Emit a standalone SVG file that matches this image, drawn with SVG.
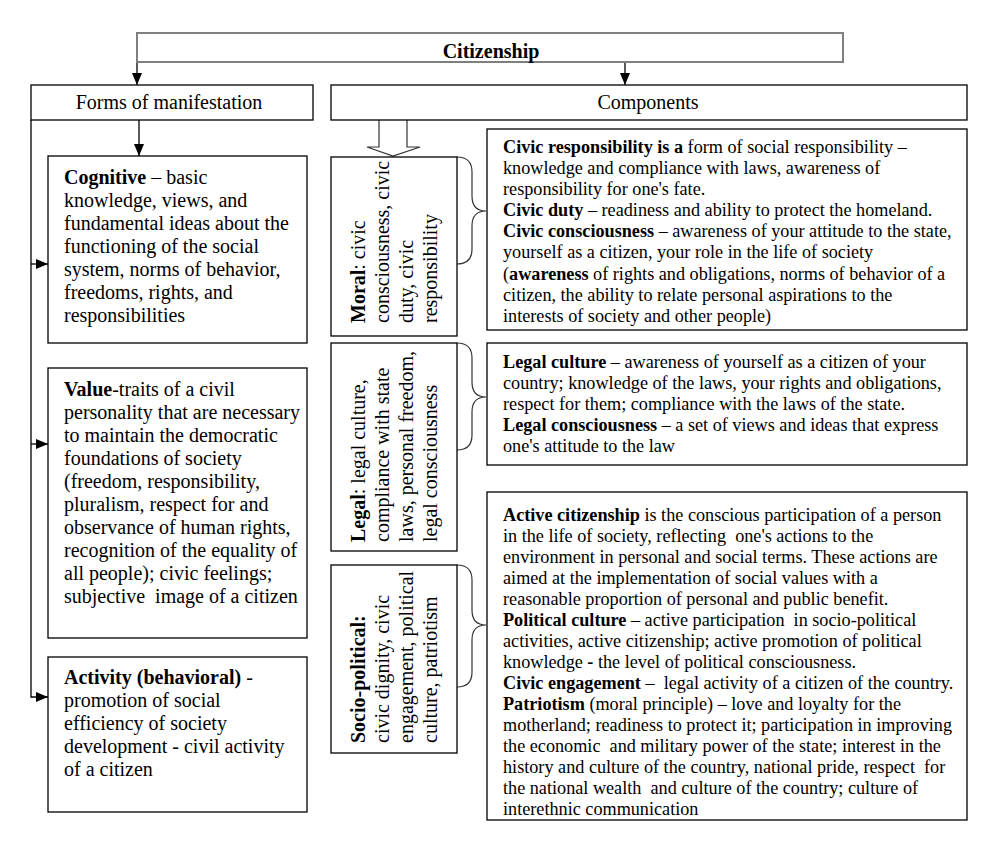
<svg xmlns="http://www.w3.org/2000/svg" width="997" height="845" viewBox="0 0 997 845">
<defs>
<marker id="arr" viewBox="0 0 12 10" refX="12" refY="5" markerWidth="12" markerHeight="10" markerUnits="userSpaceOnUse" orient="auto"><path d="M0,0 L12,5 L0,10 z" fill="#000"/></marker>
<style>
text{font-family:"Liberation Serif","Times New Roman",serif;fill:#000;white-space:pre}
.box{fill:#fff;stroke:#000;stroke-width:1.3}
.top{fill:#fff;stroke:#7f7f7f;stroke-width:2}
.l{font-size:20px}
.r{font-size:18.2px}
.t{font-size:20px}
.b{font-weight:bold}
.con{fill:none;stroke:#000;stroke-width:1.3}
.brace{fill:none;stroke:#333;stroke-width:1.2}
</style>
</defs>
<rect width="997" height="845" fill="#fff"/>

<g id="connectors">
<path class="con" d="M137,62 L137,85" marker-end="url(#arr)"/>
<path class="con" d="M625,62 L625,85" marker-end="url(#arr)"/>
<path class="con" d="M139,120 L139,156" marker-end="url(#arr)"/>
<path class="con" d="M31,120 L31,697 L48,697" marker-end="url(#arr)"/>
<path class="con" d="M31,264 L48,264" marker-end="url(#arr)"/>
<path class="con" d="M31,444 L48,444" marker-end="url(#arr)"/>
<path d="M379,120 L379,147 L367,147 L393,156 L420,147 L407,147 L407,120" fill="#fff" stroke="#333" stroke-width="1.2"/>
<path class="brace" d="M457,157 Q472,157 472,172 L472,196 Q472,211 486,211 Q472,211 472,226 L472,249 Q472,264 457,264"/>
<path class="brace" d="M457,343 Q472,343 472,358 L472,382 Q472,397 486,397 Q472,397 472,412 L472,435 Q472,450 457,450"/>
<path class="brace" d="M457,565 Q472,565 472,580 L472,610 Q472,625 486,625 Q472,625 472,640 L472,672 Q472,687 457,687"/>
</g>

<g id="citizenship">
<rect class="top" x="137" y="33" width="706" height="29"/>
<text class="t b" x="491" y="58" text-anchor="middle">Citizenship</text>
</g>

<g id="forms">
<rect class="box" x="31" y="85" width="282" height="35"/>
<text class="t" x="169" y="109" text-anchor="middle">Forms of manifestation</text>
</g>

<g id="components">
<rect class="box" x="331" y="85" width="636" height="35"/>
<text class="t" x="648" y="109" text-anchor="middle">Components</text>
</g>

<g id="cognitive">
<rect class="box" x="48" y="156" width="259" height="187"/>
<text class="l" x="64" y="184"><tspan class="b">Cognitive</tspan> – basic</text>
<text class="l" x="64" y="207">knowledge, views, and</text>
<text class="l" x="64" y="230">fundamental ideas about the</text>
<text class="l" x="64" y="253">functioning of the social</text>
<text class="l" x="64" y="276">system, norms of behavior,</text>
<text class="l" x="64" y="299">freedoms, rights, and</text>
<text class="l" x="64" y="322">responsibilities</text>
</g>

<g id="value">
<rect class="box" x="48" y="368" width="259" height="270"/>
<text class="l" x="64" y="396"><tspan class="b">Value</tspan>-traits of a civil</text>
<text class="l" x="64" y="419">personality that are necessary</text>
<text class="l" x="64" y="442">to maintain the democratic</text>
<text class="l" x="64" y="465">foundations of society</text>
<text class="l" x="64" y="488">(freedom, responsibility,</text>
<text class="l" x="64" y="511">pluralism, respect for and</text>
<text class="l" x="64" y="534">observance of human rights,</text>
<text class="l" x="64" y="557">recognition of the equality of</text>
<text class="l" x="64" y="580">all people); civic feelings;</text>
<text class="l" x="64" y="603">subjective  image of a citizen</text>
</g>

<g id="activity">
<rect class="box" x="48" y="657" width="259" height="155"/>
<text class="l" x="64" y="684"><tspan class="b">Activity (behavioral)</tspan> -</text>
<text class="l" x="64" y="707">promotion of social</text>
<text class="l" x="64" y="730">efficiency of society</text>
<text class="l" x="64" y="753">development - civil activity</text>
<text class="l" x="64" y="776">of a citizen</text>
</g>

<g id="moral">
<rect class="box" x="331" y="157" width="126" height="179"/>
<g transform="translate(0,323) rotate(-90)">
<text class="l" x="0" y="365"><tspan class="b">Moral</tspan>: civic</text>
<text class="l" x="0" y="389">consciousness, civic</text>
<text class="l" x="0" y="413">duty, civic</text>
<text class="l" x="0" y="437">responsibility</text>
</g>
</g>

<g id="legal">
<rect class="box" x="331" y="343" width="126" height="208"/>
<g transform="translate(0,542) rotate(-90)">
<text class="l" x="0" y="365"><tspan class="b">Legal</tspan>: legal culture,</text>
<text class="l" x="0" y="389">compliance with state</text>
<text class="l" x="0" y="413">laws, personal freedom,</text>
<text class="l" x="0" y="437">legal consciousness</text>
</g>
</g>

<g id="sociopolitical">
<rect class="box" x="331" y="565" width="126" height="188"/>
<g transform="translate(0,743) rotate(-90)">
<text class="l b" x="0" y="365">Socio-political:</text>
<text class="l" x="0" y="389">civic dignity, civic</text>
<text class="l" x="0" y="413">engagement, political</text>
<text class="l" x="0" y="437">culture, patriotism</text>
</g>
</g>

<g id="moral-desc">
<rect class="box" x="487" y="129" width="480" height="201"/>
<text class="r" x="503" y="153"><tspan class="b">Civic responsibility is a</tspan> form of social responsibility –</text>
<text class="r" x="503" y="174">knowledge and compliance with laws, awareness of</text>
<text class="r" x="503" y="195">responsibility for one's fate.</text>
<text class="r" x="503" y="216"><tspan class="b">Civic duty</tspan> – readiness and ability to protect the homeland.</text>
<text class="r" x="503" y="237"><tspan class="b">Civic consciousness</tspan> – awareness of your attitude to the state,</text>
<text class="r" x="503" y="258">yourself as a citizen, your role in the life of society</text>
<text class="r" x="503" y="280">(<tspan class="b">awareness</tspan> of rights and obligations, norms of behavior of a</text>
<text class="r" x="503" y="301">citizen, the ability to relate personal aspirations to the</text>
<text class="r" x="503" y="322">interests of society and other people)</text>
</g>

<g id="legal-desc">
<rect class="box" x="487" y="343" width="480" height="122"/>
<text class="r" x="503" y="368"><tspan class="b">Legal culture</tspan> – awareness of yourself as a citizen of your</text>
<text class="r" x="503" y="389">country; knowledge of the laws, your rights and obligations,</text>
<text class="r" x="503" y="410">respect for them; compliance with the laws of the state.</text>
<text class="r" x="503" y="431"><tspan class="b">Legal consciousness</tspan> – a set of views and ideas that express</text>
<text class="r" x="503" y="452">one's attitude to the law</text>
</g>

<g id="socio-desc">
<rect class="box" x="487" y="492" width="480" height="328"/>
<text class="r" x="503" y="521"><tspan class="b">Active citizenship</tspan> is the conscious participation of a person</text>
<text class="r" x="503" y="542">in the life of society, reflecting  one's actions to the</text>
<text class="r" x="503" y="563">environment in personal and social terms. These actions are</text>
<text class="r" x="503" y="584">aimed at the implementation of social values with a</text>
<text class="r" x="503" y="605">reasonable proportion of personal and public benefit.</text>
<text class="r" x="503" y="626"><tspan class="b">Political culture</tspan> – active participation  in socio-political</text>
<text class="r" x="503" y="647">activities, active citizenship; active promotion of political</text>
<text class="r" x="503" y="668">knowledge <tspan class="b">-</tspan> the level of political consciousness.</text>
<text class="r" x="503" y="689"><tspan class="b">Civic engagement</tspan> –  legal activity of a citizen of the country.</text>
<text class="r" x="503" y="710"><tspan class="b">Patriotism</tspan> (moral principle) – love and loyalty for the</text>
<text class="r" x="503" y="731">motherland; readiness to protect it; participation in improving</text>
<text class="r" x="503" y="752">the economic  and military power of the state; interest in the</text>
<text class="r" x="503" y="773">history and culture of the country, national pride, respect  for</text>
<text class="r" x="503" y="794">the national wealth  and culture of the country; culture of</text>
<text class="r" x="503" y="815">interethnic communication</text>
</g>
</svg>
